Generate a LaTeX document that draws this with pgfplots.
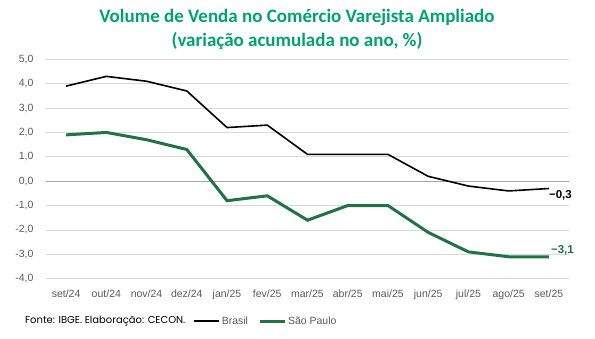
\documentclass[border=0pt]{standalone}
\usepackage{pgfplots}
\pgfplotsset{compat=1.18}
\usepackage{fontspec}
\setmainfont{Liberation Sans}
\newfontfamily\titlefont{Carlito}
\newfontfamily\footfont{Poppins}
\definecolor{ttl}{RGB}{0,163,108}
\definecolor{spg}{RGB}{33,115,70}
\definecolor{tickc}{RGB}{89,89,89}
\definecolor{grd}{RGB}{217,217,217}
\definecolor{zer}{RGB}{166,166,166}
\pgfplotstableread{
x br sp
0 3.9 1.9
1 4.3 2.0
2 4.1 1.7
3 3.7 1.3
4 2.2 -0.8
5 2.3 -0.6
6 1.1 -1.6
7 1.1 -1.0
8 1.1 -1.0
9 0.2 -2.1
10 -0.2 -2.9
11 -0.4 -3.1
12 -0.3 -3.1
}\data
\begin{document}
\begin{tikzpicture}
\useasboundingbox (0pt,0pt) rectangle (595pt,338pt);
\node[font=\titlefont\bfseries\fontsize{19}{23.5}\selectfont, text=ttl, align=center] at (297pt,308.5pt) {Volume de Venda no Comércio Varejista Ampliado\\(variação acumulada no ano, \%)};
\node[font=\footfont\fontsize{10}{12}\selectfont, anchor=west, inner sep=0pt] at (25pt,17pt) {Fonte: IBGE. Elaboração: CECON.};
\begin{axis}[
  at={(46pt,59.3pt)}, anchor=south west, scale only axis,
  width=523pt, height=219.4pt,
  xmin=-0.5, xmax=12.5, ymin=-4, ymax=5,
  ytick={-4,-3,-2,-1,0,1,2,3,4,5},
  xtick={0,...,12},
  xticklabels={set/24,out/24,nov/24,dez/24,jan/25,fev/25,mar/25,abr/25,mai/25,jun/25,jul/25,ago/25,set/25},
  axis line style={draw=none},
  major tick length=0pt,
  ymajorgrids, grid style={grd, line width=0.8pt},
  extra y ticks={0}, extra y tick labels={},
  extra y tick style={grid style={zer, line width=0.8pt}},
  /pgf/number format/.cd, fixed, fixed zerofill, precision=1, use comma, assume math mode=true,
  /pgfplots/.cd,
  yticklabel style={font=\fontsize{10.5}{12}\selectfont, text=tickc, xshift=-9pt},
  xticklabel style={font=\fontsize{10.5}{12}\selectfont, text=tickc, yshift=-8pt},
  legend columns=2,
  legend style={draw=none, fill=none, at={(0.281,-0.193)}, anchor=west, inner sep=0pt,
    font=\fontsize{10.5}{12}\selectfont, text=tickc,
    /tikz/every even column/.append style={column sep=8pt}},
  legend image code/.code={\draw[#1] (0pt,0pt) -- (25pt,0pt);},
  clip=false,
]
\addplot[black, line width=1.6pt, mark=none] table[x=x,y=br]{\data};
\addlegendentry{Brasil}
\addplot[spg, line width=3pt, mark=none] table[x=x,y=sp]{\data};
\addlegendentry{São Paulo}
\node[anchor=west, inner sep=0pt, font=\bfseries\fontsize{11.5}{13}\selectfont] at (axis cs:12,-0.59) {−0,3};
\node[anchor=west, inner sep=0pt, xshift=2pt, font=\bfseries\fontsize{11.5}{13}\selectfont, text=spg] at (axis cs:12,-2.84) {−3,1};
\end{axis}
\end{tikzpicture}
\end{document}
